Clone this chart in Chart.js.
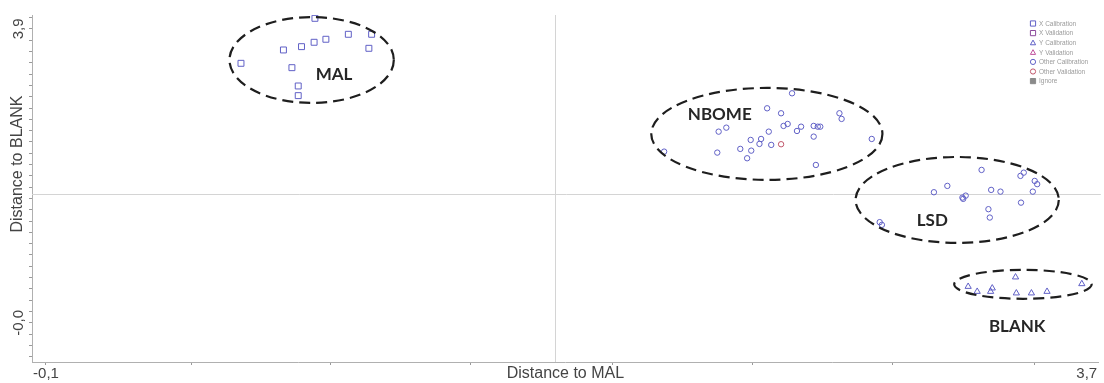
<!DOCTYPE html>
<html>
<head>
<meta charset="utf-8">
<title>Distance to MAL / Distance to BLANK</title>
<script src="https://cdn.jsdelivr.net/npm/chart.js@4/dist/chart.umd.min.js"></script>
<style>
    html, body { margin: 0; padding: 0; background: #fff; }
    #wrap { width: 1104px; height: 383px; }
</style>
</head>
<body>
<div id="wrap"><canvas id="distanceChart" width="1104" height="383"></canvas></div>
<script>
// ================================================
// DATA
// ================================================

const legendLabels = ['X Calibration', 'X Validation', 'Y Calibration', 'Y Validation',
                      'Other Calibration', 'Other Validation', 'Ignore'];

// MAL samples (X Calibration)
const malX = [0.882, 1.004, 1.089, 0.922, 0.879, 0.833, 0.767, 1.079, 0.612, 0.798, 0.821, 0.821];
const malY = [4.041, 3.829, 3.829, 3.763, 3.723, 3.665, 3.621, 3.643, 3.444, 3.386, 3.143, 3.015];

// BLANK samples (Y Calibration)
const blankX = [3.440, 3.682, 3.267, 3.300, 3.355, 3.349, 3.443, 3.498, 3.555];
const blankY = [0.606, 0.517, 0.481, 0.415, 0.460, 0.415, 0.394, 0.394, 0.415];

// NBOME samples (Other Calibration)
const nbomeX = [2.624, 2.533, 2.584, 2.797, 2.805, 2.356, 2.384, 2.593, 2.608, 2.657,
                2.642, 2.703, 2.718, 2.727, 2.539, 2.703, 2.511, 2.473, 2.915, 2.505,
                2.548, 2.435, 2.475, 2.157, 2.351, 2.460, 2.711];
const nbomeY = [3.046, 2.847, 2.781, 2.781, 2.706, 2.537, 2.590, 2.613, 2.639, 2.603,
                2.546, 2.613, 2.603, 2.603, 2.537, 2.471, 2.440, 2.427, 2.440, 2.374,
                2.361, 2.308, 2.285, 2.272, 2.259, 2.184, 2.095];

// LSD samples (Other Calibration)
const lsdX = [3.316, 3.470, 3.458, 3.510, 3.519, 3.191, 3.142, 3.351, 3.385, 3.503,
              3.258, 3.246, 3.249, 3.460, 3.341, 3.346, 2.944, 2.952];
const lsdY = [2.029, 1.993, 1.950, 1.883, 1.840, 1.817, 1.733, 1.764, 1.741, 1.741,
              1.688, 1.662, 1.645, 1.595, 1.508, 1.397, 1.336, 1.300];

// Other Validation
const otherValX = [2.584];
const otherValY = [2.370];

// Axis labels
const xLabelValues = [-0.1, 3.7];
const xLabelText = ['-0,1', '3,7'];
const xTickMarks = [0.43, 0.94, 1.45, 1.97, 2.48, 2.99, 3.51];
const yLabelValues = [0, 3.9];
const yLabelText = ['-0,0', '3,9'];

// Reference lines
const xCross = 1.757;
const yCross = 1.711;

// Cluster annotations
const clusterNames = ['MAL', 'NBOME', 'LSD', 'BLANK'];
const clusterShapes = [
    { cx: 0.870, cy: 3.488, rx: 0.300, ry: 0.570, lx: 0.952, ly: 3.289 },
    { cx: 2.532, cy: 2.507, rx: 0.422, ry: 0.610, lx: 2.360, ly: 2.768 },
    { cx: 3.227, cy: 1.631, rx: 0.371, ry: 0.570, lx: 3.136, ly: 1.357 },
    { cx: 3.467, cy: 0.511, rx: 0.251, ry: 0.192, lx: 3.446, ly: -0.049 }
];

// ================================================
// HELPERS
// ================================================

function toPoints(xs, ys) {
    return xs.map((x, i) => ({ x: x, y: ys[i] }));
}

function labelFor(value, values, texts) {
    const i = values.findIndex(v => Math.abs(v - value) < 1e-6);
    return i >= 0 ? texts[i] : '';
}

function drawMarker(ctx, style, x, y, r, color, filled) {
    ctx.beginPath();
    if (style === 'rect') {
        ctx.rect(x - r, y - r, r * 2, r * 2);
    } else if (style === 'triangle') {
        ctx.moveTo(x, y - r);
        ctx.lineTo(x + r, y + r * 0.8);
        ctx.lineTo(x - r, y + r * 0.8);
        ctx.closePath();
    } else {
        ctx.arc(x, y, r, 0, Math.PI * 2);
    }
    if (filled) {
        ctx.fillStyle = color;
        ctx.fill();
    }
    ctx.strokeStyle = color;
    ctx.lineWidth = 1;
    ctx.stroke();
}

// ================================================
// PLUGINS
// ================================================

const crossLines = {
    id: 'crossLines',
    beforeDatasetsDraw(chart) {
        const { ctx, chartArea, scales } = chart;
        const px = Math.round(scales.x.getPixelForValue(xCross)) + 0.5;
        const py = Math.round(scales.y.getPixelForValue(yCross)) + 0.5;
        ctx.save();
        ctx.strokeStyle = '#d4d4d4';
        ctx.lineWidth = 1;
        ctx.beginPath();
        ctx.moveTo(px, chartArea.top);
        ctx.lineTo(px, chartArea.bottom);
        ctx.moveTo(chartArea.left, py);
        ctx.lineTo(chartArea.right + 2, py);
        ctx.stroke();
        ctx.restore();
    }
};

const clusterEllipses = {
    id: 'clusterEllipses',
    afterDatasetsDraw(chart) {
        const { ctx, scales } = chart;
        const sx = scales.x, sy = scales.y;
        ctx.save();
        clusterShapes.forEach((c, i) => {
            const cx = sx.getPixelForValue(c.cx);
            const cy = sy.getPixelForValue(c.cy);
            const rx = Math.abs(sx.getPixelForValue(c.cx + c.rx) - cx);
            const ry = Math.abs(sy.getPixelForValue(c.cy + c.ry) - cy);
            ctx.beginPath();
            ctx.setLineDash([11, 6]);
            ctx.lineWidth = 2.2;
            ctx.strokeStyle = '#1e1e1e';
            ctx.ellipse(cx, cy, rx, ry, 0, 0, Math.PI * 2);
            ctx.stroke();

            ctx.setLineDash([]);
            ctx.fillStyle = '#262626';
            ctx.font = 'bold 17px Lato, "Open Sans", sans-serif';
            ctx.textAlign = 'center';
            ctx.textBaseline = 'middle';
            ctx.fillText(clusterNames[i], sx.getPixelForValue(c.lx), sy.getPixelForValue(c.ly));
        });
        ctx.restore();
    }
};

const miniLegend = {
    id: 'miniLegend',
    afterDraw(chart) {
        const { ctx } = chart;
        const x0 = 1033, y0 = 23.5, step = 9.6;
        ctx.save();
        ctx.font = '6.5px "Liberation Sans", Arial, sans-serif';
        ctx.textBaseline = 'middle';
        ctx.textAlign = 'left';
        chart.data.datasets.forEach((ds, i) => {
            const y = y0 + i * step;
            drawMarker(ctx, ds.pointStyle, x0, y, 2.6, ds.borderColor, ds.label === 'Ignore');
            ctx.fillStyle = '#9a9a9a';
            ctx.fillText(ds.label, x0 + 6, y + 0.5);
        });
        ctx.restore();
    }
};

// ================================================
// CHART
// ================================================

const blue = '#6060c6';

function dataset(label, points, style, color, radius) {
    return {
        label: label,
        data: points,
        pointStyle: style,
        borderColor: color,
        backgroundColor: 'rgba(255,255,255,0)',
        pointRadius: radius,
        pointBorderWidth: 1,
        showLine: false
    };
}

const axisFont = { family: '"Liberation Sans", Arial, sans-serif', size: 15 };

new Chart(document.getElementById('distanceChart'), {
    type: 'scatter',
    data: {
        datasets: [
            dataset(legendLabels[0], toPoints(malX, malY), 'rect', blue, 4.2),
            dataset(legendLabels[1], [], 'rect', '#8c4a9c', 4.2),
            dataset(legendLabels[2], toPoints(blankX, blankY), 'triangle', blue, 3.6),
            dataset(legendLabels[3], [], 'triangle', '#c0509c', 3.6),
            dataset(legendLabels[4], toPoints(nbomeX.concat(lsdX), nbomeY.concat(lsdY)), 'circle', blue, 2.7),
            dataset(legendLabels[5], toPoints(otherValX, otherValY), 'circle', '#c0566a', 2.7),
            dataset(legendLabels[6], [], 'rect', '#8a8a8a', 2.6)
        ]
    },
    options: {
        responsive: false,
        animation: false,
        layout: { padding: { top: 15, right: 2, left: 0, bottom: 0 } },
        plugins: {
            legend: { display: false },
            tooltip: { enabled: false }
        },
        scales: {
            x: {
                type: 'linear',
                min: -0.151,
                max: 3.744,
                afterBuildTicks: function(scale) {
                    scale.ticks = xLabelValues.concat(xTickMarks)
                        .sort((a, b) => a - b)
                        .map(v => ({ value: v }));
                },
                afterFit: function(scale) {
                    scale.height = 21;
                    scale.paddingLeft = 0;
                    scale.paddingRight = 0;
                },
                ticks: {
                    autoSkip: false,
                    maxRotation: 0,
                    padding: 0,
                    color: '#444',
                    font: axisFont,
                    callback: v => labelFor(v, xLabelValues, xLabelText)
                },
                grid: {
                    drawOnChartArea: false,
                    tickLength: 3,
                    tickColor: ctx => (ctx.tick && Math.abs(ctx.tick.value - 3.7) < 1e-6) ? 'rgba(0,0,0,0)' : '#9a9a9a'
                },
                border: { color: '#b0b0b0' },
                title: {
                    display: true,
                    text: 'Distance to MAL',
                    color: '#444',
                    font: { family: '"Liberation Sans", Arial, sans-serif', size: 16 },
                    padding: { top: 0, bottom: 0 }
                }
            },
            y: {
                type: 'linear',
                min: -0.52,
                max: 4.085,
                afterFit: function(scale) {
                    scale.width = 32;
                    scale.paddingTop = 0;
                    scale.paddingBottom = 0;
                },
                ticks: {
                    stepSize: 0.15,
                    includeBounds: false,
                    autoSkip: false,
                    minRotation: 90,
                    maxRotation: 90,
                    crossAlign: 'center',
                    padding: -3,
                    color: '#444',
                    font: axisFont,
                    callback: v => labelFor(v, yLabelValues, yLabelText)
                },
                grid: {
                    drawOnChartArea: false,
                    tickLength: 3,
                    tickColor: '#9a9a9a'
                },
                border: { color: '#b0b0b0' },
                title: {
                    display: true,
                    text: '           Distance to BLANK',
                    color: '#444',
                    font: { family: '"Liberation Sans", Arial, sans-serif', size: 16 },
                    padding: { top: 8, bottom: 0 }
                }
            }
        }
    },
    plugins: [crossLines, clusterEllipses, miniLegend]
});
</script>
</body>
</html>
